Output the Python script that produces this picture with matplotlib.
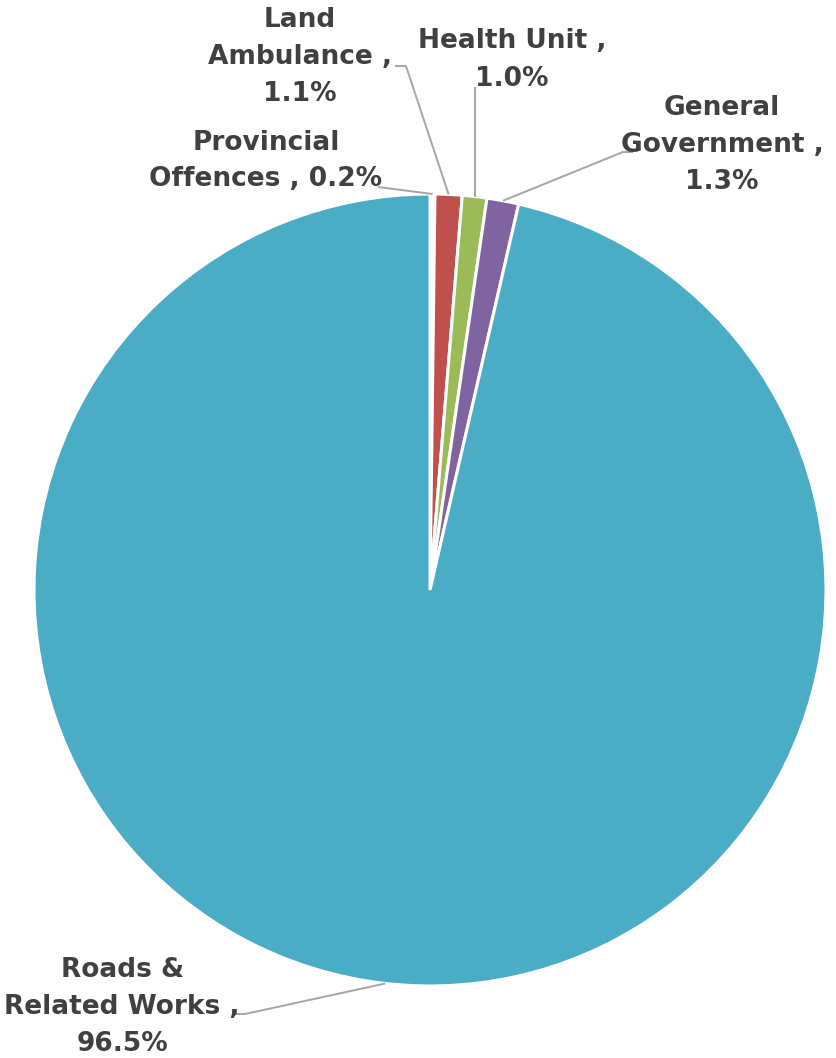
import matplotlib
matplotlib.use("Agg")
import matplotlib.pyplot as plt
import numpy as np

# slices, clockwise from 12 o'clock
names = ["Provincial\nOffences", "Land\nAmbulance", "Health Unit", "General\nGovernment", "Roads &\nRelated Works"]
shares = [0.2, 1.1, 1.0, 1.3, 96.5]
colors = ["#FFFFFF", "#C0504D", "#9BBB59", "#8064A2", "#4BACC6"]
# label text as shown on the chart
label_texts = ["Provincial\nOffences , 0.2%", "Land\nAmbulance ,\n1.1%", "Health Unit ,\n1.0%",
               "General\nGovernment ,\n1.3%", "Roads &\nRelated Works ,\n96.5%"]

W, H = 837, 1058
CX, CY, R = 430, 590, 396


def px(x, y):
    # pixel position -> data coords (pie of radius 1 at origin)
    return (x - CX) / R, (CY - y) / R


# label centres and leader line start/elbow in pixels
label_pos = [(266, 161), (300, 57), (512, 60), (722, 145), (122, 1007)]
leader = [
    [(378, 187)],
    [(395, 66), (406, 66)],
    [None],
    [(633, 152), (623, 152)],
    [(235, 1014), (245, 1014)],
]

fig = plt.figure(figsize=(W / 100, H / 100), dpi=100)
ax = fig.add_axes([0, 0, 1, 1])
ax.pie(shares, colors=colors, startangle=90, counterclock=False, radius=1,
       wedgeprops=dict(edgecolor="white", linewidth=2.2))
x0, y1 = px(0, 0)
x1, y0 = px(W, H)
ax.set_xlim(x0, x1)
ax.set_ylim(y0, y1)
ax.set_aspect("equal")
ax.axis("off")

total = sum(shares)
cum = 0
for i, s in enumerate(shares):
    mid = 90 - (cum + s / 2) / total * 360
    cum += s
    ex, ey = np.cos(np.radians(mid)), np.sin(np.radians(mid))
    pts = leader[i]
    if pts[0] is None:
        # straight vertical leader
        lx, ly = ex, px(0, 87)[1]
        xs, ys = [lx, ex], [ly, ey]
    else:
        p = [px(*q) for q in pts]
        xs = [q[0] for q in p] + [ex]
        ys = [q[1] for q in p] + [ey]
    ax.plot(xs, ys, color="#A6A6A6", lw=1.4, solid_capstyle="butt")
    tx, ty = px(*label_pos[i])
    ax.text(tx, ty, label_texts[i], ha="center", va="center", fontsize=19,
            fontweight="bold", color="#404040", linespacing=1.55, family="DejaVu Sans")

fig.savefig("out.png", dpi=100)
